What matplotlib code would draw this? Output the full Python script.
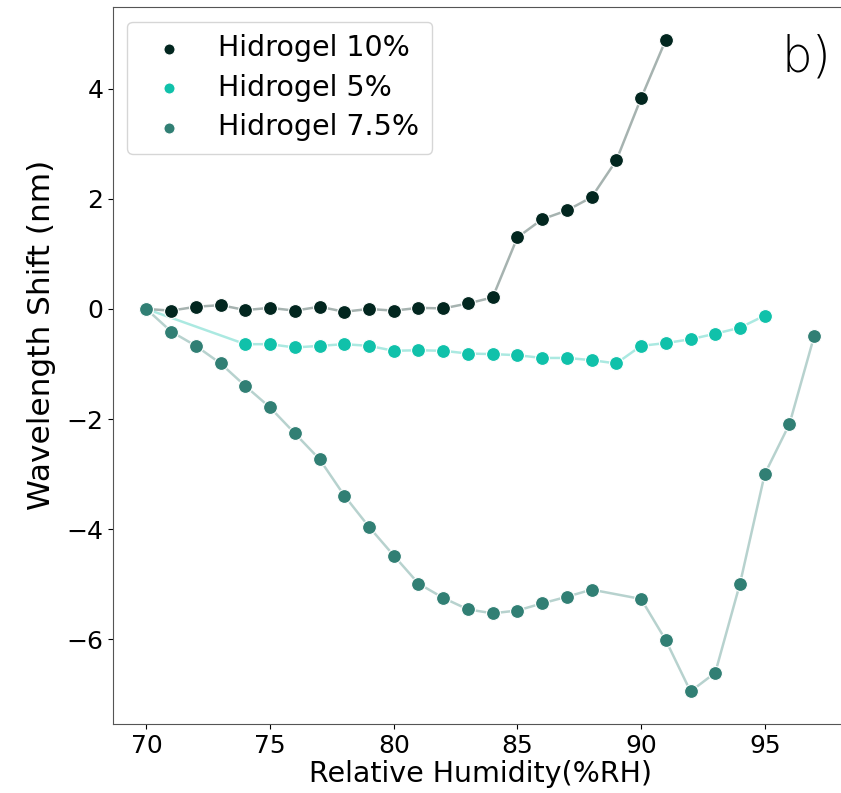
import numpy as np
import matplotlib.pyplot as plt

# DATA

rh_10 = [70, 71, 72, 73, 74, 75, 76, 77, 78, 79, 80, 81, 82, 83, 84, 85, 86, 87, 88, 89, 90, 91]
shift_10 = [0.0, -0.03, 0.04, 0.07, -0.02, 0.02, -0.03, 0.04, -0.05, 0.0, -0.03, 0.02, 0.01, 0.10, 0.21,
            1.30, 1.63, 1.79, 2.03, 2.70, 3.83, 4.89]

rh_5 = [70, 74, 75, 76, 77, 78, 79, 80, 81, 82, 83, 84, 85, 86, 87, 88, 89, 90, 91, 92, 93, 94, 95]
shift_5 = [0.0, -0.64, -0.64, -0.70, -0.67, -0.64, -0.67, -0.76, -0.75, -0.76, -0.81, -0.82, -0.84,
           -0.89, -0.89, -0.93, -0.99, -0.67, -0.62, -0.55, -0.45, -0.34, -0.12]

rh_75 = [70, 71, 72, 73, 74, 75, 76, 77, 78, 79, 80, 81, 82, 83, 84, 85, 86, 87, 88, 90, 91, 92, 93, 94, 95, 96, 97]
shift_75 = [0.0, -0.41, -0.67, -0.99, -1.40, -1.79, -2.26, -2.73, -3.39, -3.96, -4.48, -4.99, -5.25,
            -5.46, -5.53, -5.48, -5.35, -5.23, -5.10, -5.27, -6.02, -6.95, -6.61, -4.99, -3.00, -2.09, -0.49]

series = [
    (rh_10, shift_10, '#02261f', 'Hidrogel 10%'),
    (rh_5, shift_5, '#10c1aa', 'Hidrogel 5%'),
    (rh_75, shift_75, '#317f74', 'Hidrogel 7.5%'),
]

# PLOT

fig = plt.figure(figsize=(8.41, 7.93), dpi=100)
ax = fig.add_axes([113/841, 1-724/793, (847.6-113)/841, (724-7.3)/793])

for x, y, col, lab in series:
    ax.plot(x, y, color=col, alpha=0.35, linewidth=1.8, zorder=1)
    ax.scatter(x, y, s=100, color=col, edgecolors='white', linewidths=0.8, label=lab, zorder=2)

ax.set_xlabel('Relative Humidity(%RH)', fontsize=20.5, labelpad=2)
ax.set_ylabel('Wavelength Shift (nm)', fontsize=22.5)
ax.yaxis.set_label_coords(-0.078, 0.543)
ax.tick_params(labelsize=18)
for s in ax.spines.values():
    s.set_color('#555555')
ax.spines['right'].set_visible(False)

ax.legend(loc='upper left', fontsize=20.5, markerscale=0.8, handletextpad=0.75,
          borderpad=0.45, labelspacing=0.4)

fig.text(806/841, 1-57/793, 'b)', fontsize=35, fontweight='light', ha='center', va='center')

fig.savefig('out.png', dpi=100)
